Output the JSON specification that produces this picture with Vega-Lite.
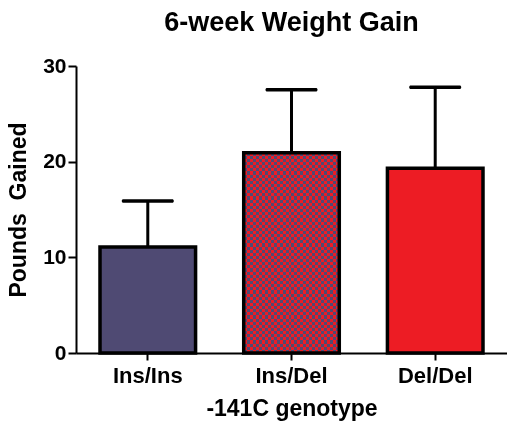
{
  "$schema": "https://vega.github.io/schema/vega-lite/v6.json",
  "width": 431,
  "height": 287,
  "autosize": {"type": "none"},
  "padding": {"left": 76, "top": 66, "right": 0, "bottom": 69},
  "background": "white",
  "config": {"view": {"stroke": null}, "font": "Liberation Sans"},
  "title": {
    "text": "6-week Weight Gain",
    "font": "Liberation Sans",
    "fontSize": 27,
    "fontWeight": "bold",
    "color": "black",
    "anchor": "middle",
    "frame": "group",
    "baseline": "alphabetic",
    "offset": 6,
    "dy": 9
  },
  "data": {
    "values": [
      {"genotype": "Ins/Ins", "mean": 11.07, "upper": 15.9},
      {"genotype": "Ins/Del", "mean": 20.94, "upper": 27.52},
      {"genotype": "Del/Del", "mean": 19.31, "upper": 27.77}
    ]
  },
  "encoding": {
    "x": {
      "field": "genotype",
      "type": "nominal",
      "sort": ["Ins/Ins", "Ins/Del", "Del/Del"],
      "scale": {"domain": ["Ins/Ins", "Ins/Del", "Del/Del"], "paddingInner": 0.335, "paddingOuter": 0.167},
      "axis": {
        "title": "-141C genotype",
        "labelAngle": 0,
        "grid": false,
        "domainColor": "black",
        "domainWidth": 2,
        "tickColor": "black",
        "tickWidth": 2,
        "tickSize": 7,
        "labelFont": "Liberation Sans",
        "labelFontSize": 22,
        "labelFontWeight": "bold",
        "labelColor": "black",
        "labelBaseline": "alphabetic",
        "labelPadding": 22,
        "titleFont": "Liberation Sans",
        "titleFontSize": 23,
        "titleFontWeight": "bold",
        "titleColor": "black",
        "titleBaseline": "alphabetic",
        "titleY": 62
      }
    },
    "y": {
      "field": "mean",
      "type": "quantitative",
      "scale": {"domain": [0, 30], "nice": false},
      "axis": {
        "title": "Pounds\u00a0\u00a0Gained",
        "values": [0, 10, 20, 30],
        "grid": false,
        "domainColor": "black",
        "domainWidth": 2,
        "tickColor": "black",
        "tickWidth": 2,
        "tickSize": 8,
        "labelFont": "Liberation Sans",
        "labelFontSize": 21,
        "labelFontWeight": "bold",
        "labelColor": "black",
        "labelPadding": 2,
        "titleFont": "Liberation Sans",
        "titleFontSize": 23,
        "titleFontWeight": "bold",
        "titleColor": "black",
        "titleAngle": -90,
        "titleAlign": "center",
        "titleBaseline": "alphabetic",
        "titleX": -51,
        "titleY": 143.5
      }
    }
  },
  "layer": [
    {
      "mark": {"type": "bar", "strokeWidth": 0},
      "encoding": {
        "color": {
          "field": "genotype",
          "type": "nominal",
          "scale": {"domain": ["Ins/Ins", "Ins/Del", "Del/Del"], "range": ["#4F4A73", "#FF0000", "#ED1C24"]},
          "legend": null
        }
      }
    },
    {
      "transform": [{"filter": "datum.genotype === 'Ins/Del'"}],
      "mark": {
        "type": "bar",
        "strokeWidth": 0,
        "blend": "difference",
        "fill": {
          "gradient": "linear", "x1": 0, "y1": 0, "x2": 1, "y2": 0,
          "stops": [
            {"offset": 0.03125, "color": "rgba(255,255,255,0)"}, {"offset": 0.03125, "color": "#ffffff"}, {"offset": 0.0625, "color": "#ffffff"}, {"offset": 0.0625, "color": "rgba(255,255,255,0)"},
            {"offset": 0.09375, "color": "rgba(255,255,255,0)"}, {"offset": 0.09375, "color": "#ffffff"}, {"offset": 0.125, "color": "#ffffff"}, {"offset": 0.125, "color": "rgba(255,255,255,0)"},
            {"offset": 0.15625, "color": "rgba(255,255,255,0)"}, {"offset": 0.15625, "color": "#ffffff"}, {"offset": 0.1875, "color": "#ffffff"}, {"offset": 0.1875, "color": "rgba(255,255,255,0)"},
            {"offset": 0.21875, "color": "rgba(255,255,255,0)"}, {"offset": 0.21875, "color": "#ffffff"}, {"offset": 0.25, "color": "#ffffff"}, {"offset": 0.25, "color": "rgba(255,255,255,0)"},
            {"offset": 0.28125, "color": "rgba(255,255,255,0)"}, {"offset": 0.28125, "color": "#ffffff"}, {"offset": 0.3125, "color": "#ffffff"}, {"offset": 0.3125, "color": "rgba(255,255,255,0)"},
            {"offset": 0.34375, "color": "rgba(255,255,255,0)"}, {"offset": 0.34375, "color": "#ffffff"}, {"offset": 0.375, "color": "#ffffff"}, {"offset": 0.375, "color": "rgba(255,255,255,0)"},
            {"offset": 0.40625, "color": "rgba(255,255,255,0)"}, {"offset": 0.40625, "color": "#ffffff"}, {"offset": 0.4375, "color": "#ffffff"}, {"offset": 0.4375, "color": "rgba(255,255,255,0)"},
            {"offset": 0.46875, "color": "rgba(255,255,255,0)"}, {"offset": 0.46875, "color": "#ffffff"}, {"offset": 0.5, "color": "#ffffff"}, {"offset": 0.5, "color": "rgba(255,255,255,0)"},
            {"offset": 0.53125, "color": "rgba(255,255,255,0)"}, {"offset": 0.53125, "color": "#ffffff"}, {"offset": 0.5625, "color": "#ffffff"}, {"offset": 0.5625, "color": "rgba(255,255,255,0)"},
            {"offset": 0.59375, "color": "rgba(255,255,255,0)"}, {"offset": 0.59375, "color": "#ffffff"}, {"offset": 0.625, "color": "#ffffff"}, {"offset": 0.625, "color": "rgba(255,255,255,0)"},
            {"offset": 0.65625, "color": "rgba(255,255,255,0)"}, {"offset": 0.65625, "color": "#ffffff"}, {"offset": 0.6875, "color": "#ffffff"}, {"offset": 0.6875, "color": "rgba(255,255,255,0)"},
            {"offset": 0.71875, "color": "rgba(255,255,255,0)"}, {"offset": 0.71875, "color": "#ffffff"}, {"offset": 0.75, "color": "#ffffff"}, {"offset": 0.75, "color": "rgba(255,255,255,0)"},
            {"offset": 0.78125, "color": "rgba(255,255,255,0)"}, {"offset": 0.78125, "color": "#ffffff"}, {"offset": 0.8125, "color": "#ffffff"}, {"offset": 0.8125, "color": "rgba(255,255,255,0)"},
            {"offset": 0.84375, "color": "rgba(255,255,255,0)"}, {"offset": 0.84375, "color": "#ffffff"}, {"offset": 0.875, "color": "#ffffff"}, {"offset": 0.875, "color": "rgba(255,255,255,0)"},
            {"offset": 0.90625, "color": "rgba(255,255,255,0)"}, {"offset": 0.90625, "color": "#ffffff"}, {"offset": 0.9375, "color": "#ffffff"}, {"offset": 0.9375, "color": "rgba(255,255,255,0)"},
            {"offset": 0.96875, "color": "rgba(255,255,255,0)"}, {"offset": 0.96875, "color": "#ffffff"}, {"offset": 1, "color": "#ffffff"}
          ]
        }
      }
    },
    {
      "transform": [{"filter": "datum.genotype === 'Ins/Del'"}],
      "mark": {
        "type": "bar",
        "strokeWidth": 0,
        "blend": "difference",
        "fill": {
          "gradient": "linear", "x1": 0, "y1": 0, "x2": 0, "y2": 1,
          "stops": [
            {"offset": 0.015625, "color": "rgba(255,255,255,0)"}, {"offset": 0.015625, "color": "#ffffff"}, {"offset": 0.03125, "color": "#ffffff"}, {"offset": 0.03125, "color": "rgba(255,255,255,0)"},
            {"offset": 0.046875, "color": "rgba(255,255,255,0)"}, {"offset": 0.046875, "color": "#ffffff"}, {"offset": 0.0625, "color": "#ffffff"}, {"offset": 0.0625, "color": "rgba(255,255,255,0)"},
            {"offset": 0.078125, "color": "rgba(255,255,255,0)"}, {"offset": 0.078125, "color": "#ffffff"}, {"offset": 0.09375, "color": "#ffffff"}, {"offset": 0.09375, "color": "rgba(255,255,255,0)"},
            {"offset": 0.109375, "color": "rgba(255,255,255,0)"}, {"offset": 0.109375, "color": "#ffffff"}, {"offset": 0.125, "color": "#ffffff"}, {"offset": 0.125, "color": "rgba(255,255,255,0)"},
            {"offset": 0.140625, "color": "rgba(255,255,255,0)"}, {"offset": 0.140625, "color": "#ffffff"}, {"offset": 0.15625, "color": "#ffffff"}, {"offset": 0.15625, "color": "rgba(255,255,255,0)"},
            {"offset": 0.171875, "color": "rgba(255,255,255,0)"}, {"offset": 0.171875, "color": "#ffffff"}, {"offset": 0.1875, "color": "#ffffff"}, {"offset": 0.1875, "color": "rgba(255,255,255,0)"},
            {"offset": 0.203125, "color": "rgba(255,255,255,0)"}, {"offset": 0.203125, "color": "#ffffff"}, {"offset": 0.21875, "color": "#ffffff"}, {"offset": 0.21875, "color": "rgba(255,255,255,0)"},
            {"offset": 0.234375, "color": "rgba(255,255,255,0)"}, {"offset": 0.234375, "color": "#ffffff"}, {"offset": 0.25, "color": "#ffffff"}, {"offset": 0.25, "color": "rgba(255,255,255,0)"},
            {"offset": 0.265625, "color": "rgba(255,255,255,0)"}, {"offset": 0.265625, "color": "#ffffff"}, {"offset": 0.28125, "color": "#ffffff"}, {"offset": 0.28125, "color": "rgba(255,255,255,0)"},
            {"offset": 0.296875, "color": "rgba(255,255,255,0)"}, {"offset": 0.296875, "color": "#ffffff"}, {"offset": 0.3125, "color": "#ffffff"}, {"offset": 0.3125, "color": "rgba(255,255,255,0)"},
            {"offset": 0.328125, "color": "rgba(255,255,255,0)"}, {"offset": 0.328125, "color": "#ffffff"}, {"offset": 0.34375, "color": "#ffffff"}, {"offset": 0.34375, "color": "rgba(255,255,255,0)"},
            {"offset": 0.359375, "color": "rgba(255,255,255,0)"}, {"offset": 0.359375, "color": "#ffffff"}, {"offset": 0.375, "color": "#ffffff"}, {"offset": 0.375, "color": "rgba(255,255,255,0)"},
            {"offset": 0.390625, "color": "rgba(255,255,255,0)"}, {"offset": 0.390625, "color": "#ffffff"}, {"offset": 0.40625, "color": "#ffffff"}, {"offset": 0.40625, "color": "rgba(255,255,255,0)"},
            {"offset": 0.421875, "color": "rgba(255,255,255,0)"}, {"offset": 0.421875, "color": "#ffffff"}, {"offset": 0.4375, "color": "#ffffff"}, {"offset": 0.4375, "color": "rgba(255,255,255,0)"},
            {"offset": 0.453125, "color": "rgba(255,255,255,0)"}, {"offset": 0.453125, "color": "#ffffff"}, {"offset": 0.46875, "color": "#ffffff"}, {"offset": 0.46875, "color": "rgba(255,255,255,0)"},
            {"offset": 0.484375, "color": "rgba(255,255,255,0)"}, {"offset": 0.484375, "color": "#ffffff"}, {"offset": 0.5, "color": "#ffffff"}, {"offset": 0.5, "color": "rgba(255,255,255,0)"},
            {"offset": 0.515625, "color": "rgba(255,255,255,0)"}, {"offset": 0.515625, "color": "#ffffff"}, {"offset": 0.53125, "color": "#ffffff"}, {"offset": 0.53125, "color": "rgba(255,255,255,0)"},
            {"offset": 0.546875, "color": "rgba(255,255,255,0)"}, {"offset": 0.546875, "color": "#ffffff"}, {"offset": 0.5625, "color": "#ffffff"}, {"offset": 0.5625, "color": "rgba(255,255,255,0)"},
            {"offset": 0.578125, "color": "rgba(255,255,255,0)"}, {"offset": 0.578125, "color": "#ffffff"}, {"offset": 0.59375, "color": "#ffffff"}, {"offset": 0.59375, "color": "rgba(255,255,255,0)"},
            {"offset": 0.609375, "color": "rgba(255,255,255,0)"}, {"offset": 0.609375, "color": "#ffffff"}, {"offset": 0.625, "color": "#ffffff"}, {"offset": 0.625, "color": "rgba(255,255,255,0)"},
            {"offset": 0.640625, "color": "rgba(255,255,255,0)"}, {"offset": 0.640625, "color": "#ffffff"}, {"offset": 0.65625, "color": "#ffffff"}, {"offset": 0.65625, "color": "rgba(255,255,255,0)"},
            {"offset": 0.671875, "color": "rgba(255,255,255,0)"}, {"offset": 0.671875, "color": "#ffffff"}, {"offset": 0.6875, "color": "#ffffff"}, {"offset": 0.6875, "color": "rgba(255,255,255,0)"},
            {"offset": 0.703125, "color": "rgba(255,255,255,0)"}, {"offset": 0.703125, "color": "#ffffff"}, {"offset": 0.71875, "color": "#ffffff"}, {"offset": 0.71875, "color": "rgba(255,255,255,0)"},
            {"offset": 0.734375, "color": "rgba(255,255,255,0)"}, {"offset": 0.734375, "color": "#ffffff"}, {"offset": 0.75, "color": "#ffffff"}, {"offset": 0.75, "color": "rgba(255,255,255,0)"},
            {"offset": 0.765625, "color": "rgba(255,255,255,0)"}, {"offset": 0.765625, "color": "#ffffff"}, {"offset": 0.78125, "color": "#ffffff"}, {"offset": 0.78125, "color": "rgba(255,255,255,0)"},
            {"offset": 0.796875, "color": "rgba(255,255,255,0)"}, {"offset": 0.796875, "color": "#ffffff"}, {"offset": 0.8125, "color": "#ffffff"}, {"offset": 0.8125, "color": "rgba(255,255,255,0)"},
            {"offset": 0.828125, "color": "rgba(255,255,255,0)"}, {"offset": 0.828125, "color": "#ffffff"}, {"offset": 0.84375, "color": "#ffffff"}, {"offset": 0.84375, "color": "rgba(255,255,255,0)"},
            {"offset": 0.859375, "color": "rgba(255,255,255,0)"}, {"offset": 0.859375, "color": "#ffffff"}, {"offset": 0.875, "color": "#ffffff"}, {"offset": 0.875, "color": "rgba(255,255,255,0)"},
            {"offset": 0.890625, "color": "rgba(255,255,255,0)"}, {"offset": 0.890625, "color": "#ffffff"}, {"offset": 0.90625, "color": "#ffffff"}, {"offset": 0.90625, "color": "rgba(255,255,255,0)"},
            {"offset": 0.921875, "color": "rgba(255,255,255,0)"}, {"offset": 0.921875, "color": "#ffffff"}, {"offset": 0.9375, "color": "#ffffff"}, {"offset": 0.9375, "color": "rgba(255,255,255,0)"},
            {"offset": 0.953125, "color": "rgba(255,255,255,0)"}, {"offset": 0.953125, "color": "#ffffff"}, {"offset": 0.96875, "color": "#ffffff"}, {"offset": 0.96875, "color": "rgba(255,255,255,0)"},
            {"offset": 0.984375, "color": "rgba(255,255,255,0)"}, {"offset": 0.984375, "color": "#ffffff"}, {"offset": 1, "color": "#ffffff"}
          ]
        }
      }
    },
    {
      "transform": [{"filter": "datum.genotype === 'Ins/Del'"}],
      "mark": {"type": "bar", "strokeWidth": 0, "blend": "multiply", "fill": "#E5345C"}
    },
    {
      "transform": [{"filter": "datum.genotype === 'Ins/Del'"}],
      "mark": {"type": "bar", "strokeWidth": 0, "blend": "screen", "fill": "#4F1C24"}
    },
    {
      "mark": {"type": "bar", "fillOpacity": 0, "fill": "white", "stroke": "black", "strokeWidth": 3.5}
    },
    {
      "mark": {"type": "rule", "color": "black", "strokeWidth": 3},
      "encoding": {"y2": {"field": "upper"}}
    },
    {
      "mark": {"type": "tick", "orient": "horizontal", "color": "black", "size": 52, "thickness": 3.5, "cornerRadius": 1.5, "opacity": 1},
      "encoding": {"y": {"field": "upper", "type": "quantitative"}}
    }
  ]
}
